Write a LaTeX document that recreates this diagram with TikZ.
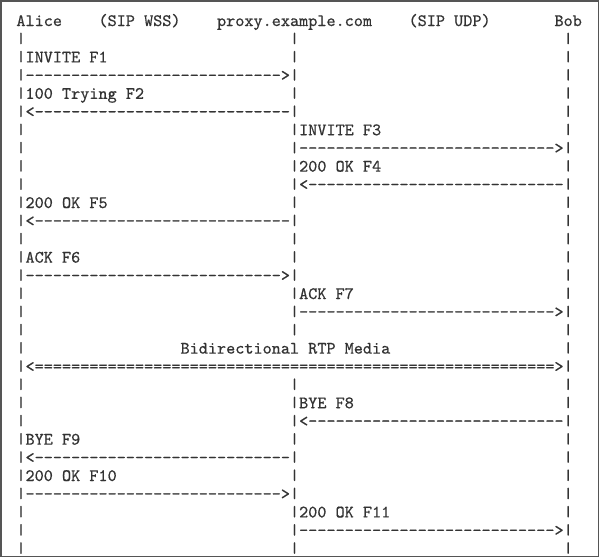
\documentclass[tikz,border=0pt]{standalone}
\usepackage{fontspec}
\usepackage{graphicx}
\newfontfamily\mono{lmmono10-regular.otf}[Ligatures=TeXOff,FakeBold=0.6,AutoFakeBold=0.6]
\frenchspacing
\definecolor{ink}{HTML}{333333}
\definecolor{framecol}{HTML}{555555}
\newlength\cw
\newcommand\rpt[2]{\foreach\i in {1,...,#1}{#2}}
\newcommand\rarrow{\rpt{28}{-}>}
\newcommand\larrow{<\rpt{28}{-}}
\newcommand\vbar{\raisebox{\depth}{\resizebox*{\width}{11.5pt}{|}}}
\begin{document}
\settowidth\cw{\mono\fontsize{10pt}{12pt}\selectfont M}
\pgfmathsetmacro\fsz{91.2/\cw}
\begin{tikzpicture}[x=1pt,y=-1pt,
  txt/.style={anchor=base west,inner sep=0pt,outer sep=0pt,
    font=\mono\bfseries\fontsize{\fsz pt}{18.2pt}\selectfont,text=ink},
  barch/.style={txt}]
\useasboundingbox (0,0) rectangle (600,558);
\fill[white] (0,0) rectangle (600,558);
\def\cx#1{16.4+9.12*#1}
\def\ry#1{26+18.2*#1}
\begin{scope}
\clip (1.5,1.5) rectangle (598,556);
% header
\node[txt] (alice) at ({\cx{0}},{\ry{0}}) {Alice};
\node[txt] (wss)   at ({\cx{9}},{\ry{0}}) {(SIP WSS)};
\node[txt] (proxy) at ({\cx{22}},{\ry{0}}) {proxy.example.com};
\node[txt] (udp)   at ({\cx{43}},{\ry{0}}) {(SIP UDP)};
\node[txt] (bob)   at ({\cx{59}},{\ry{0}}) {Bob};
% lifelines
\foreach \r in {1,...,29}{
  \node[barch] (la\r) at ({\cx{0}},{\ry{\r}}) {\vbar};
  \node[barch] (lb\r) at ({\cx{60}},{\ry{\r}}) {\vbar};
}
\foreach \r in {1,...,17,20,21,...,29}{
  \node[barch] (lp\r) at ({\cx{30}},{\ry{\r}}) {\vbar};
}
% messages
\node[txt] (m1)  at ({\cx{1}},{\ry{2}})  {INVITE F1};
\node[txt] (a1)  at ({\cx{1}},{\ry{3}})  {\rarrow};
\node[txt] (m2)  at ({\cx{1}},{\ry{4}})  {100 Trying F2};
\node[txt] (a2)  at ({\cx{1}},{\ry{5}})  {\larrow};
\node[txt] (m3)  at ({\cx{31}},{\ry{6}}) {INVITE F3};
\node[txt] (a3)  at ({\cx{31}},{\ry{7}}) {\rarrow};
\node[txt] (m4)  at ({\cx{31}},{\ry{8}}) {200 OK F4};
\node[txt] (a4)  at ({\cx{31}},{\ry{9}}) {\larrow};
\node[txt] (m5)  at ({\cx{1}},{\ry{10}}) {200 OK F5};
\node[txt] (a5)  at ({\cx{1}},{\ry{11}}) {\larrow};
\node[txt] (m6)  at ({\cx{1}},{\ry{13}}) {ACK F6};
\node[txt] (a6)  at ({\cx{1}},{\ry{14}}) {\rarrow};
\node[txt] (m7)  at ({\cx{31}},{\ry{15}}) {ACK F7};
\node[txt] (a7)  at ({\cx{31}},{\ry{16}}) {\rarrow};
\node[txt] (media) at ({\cx{18}},{\ry{18}}) {Bidirectional RTP Media};
\node[txt] (amedia) at ({\cx{1}},{\ry{19}}) {<\rpt{57}{=}>};
\node[txt] (m8)  at ({\cx{31}},{\ry{21}}) {BYE F8};
\node[txt] (a8)  at ({\cx{31}},{\ry{22}}) {\larrow};
\node[txt] (m9)  at ({\cx{1}},{\ry{23}}) {BYE F9};
\node[txt] (a9)  at ({\cx{1}},{\ry{24}}) {\larrow};
\node[txt] (m10) at ({\cx{1}},{\ry{25}}) {200 OK F10};
\node[txt] (a10) at ({\cx{1}},{\ry{26}}) {\rarrow};
\node[txt] (m11) at ({\cx{31}},{\ry{27}}) {200 OK F11};
\node[txt] (a11) at ({\cx{31}},{\ry{28}}) {\rarrow};
\end{scope}
\draw[framecol,line width=1.2pt] (1,1) rectangle (598.4,556.6);
\end{tikzpicture}
\end{document}
